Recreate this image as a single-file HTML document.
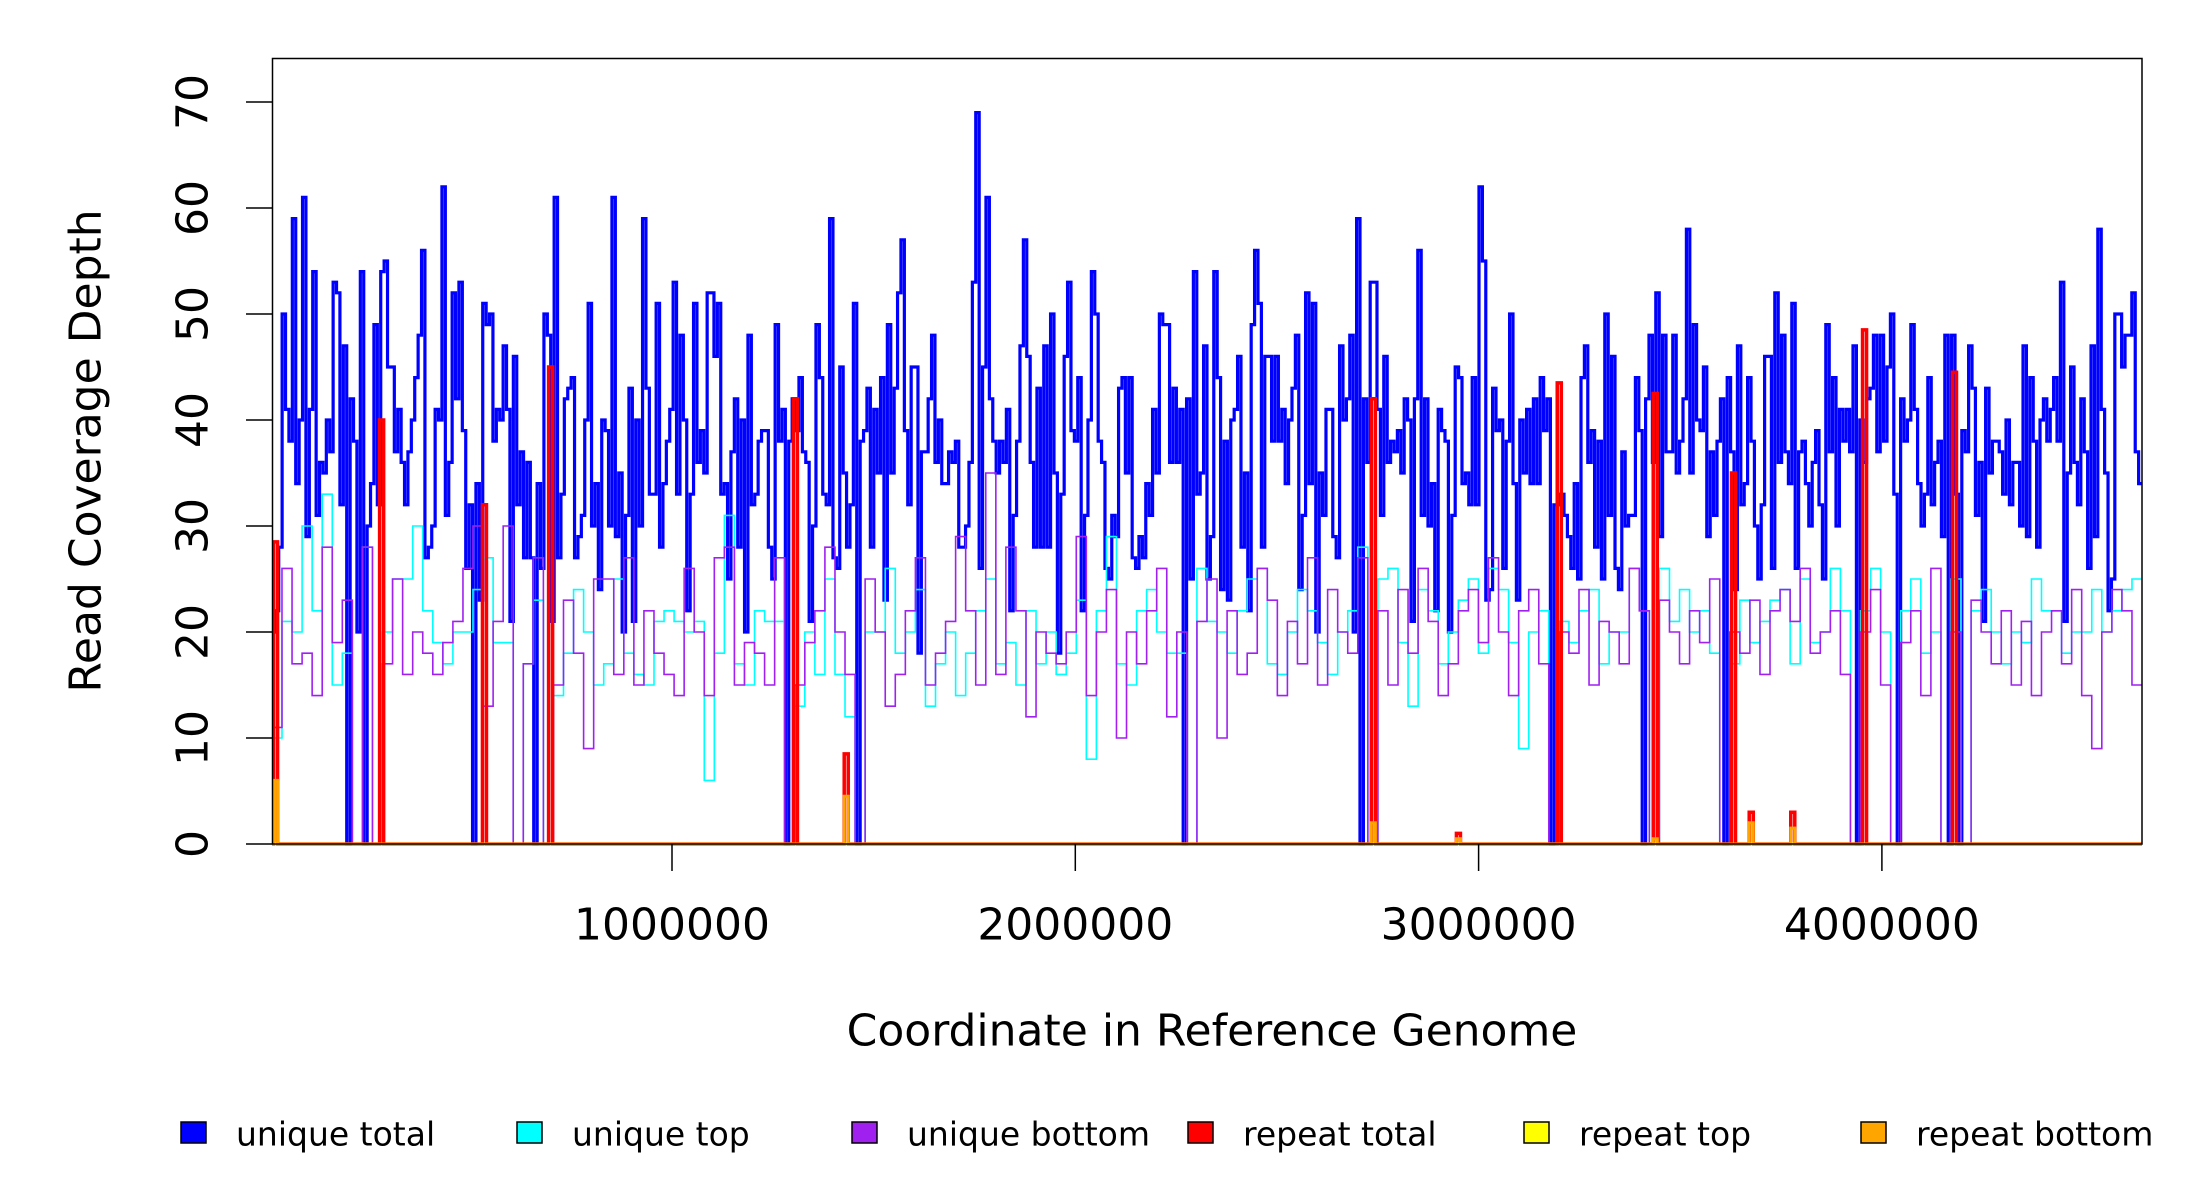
<!DOCTYPE html>
<html><head><meta charset="utf-8">
<style>
html,body{margin:0;padding:0;background:#fff;}
svg{display:block;font-family:"DejaVu Sans","Liberation Sans",sans-serif;}
</style></head>
<body>
<svg id="chart" width="2200" height="1200" viewBox="0 0 2200 1200" xmlns="http://www.w3.org/2000/svg">
<rect x="0" y="0" width="2200" height="1200" fill="#fff"/>
<defs><clipPath id="plotclip"><rect x="272" y="58" width="1870" height="789"/></clipPath></defs>
<g id="series" clip-path="url(#plotclip)"></g>
<rect x="272.5" y="58.5" width="1869.5" height="785.5" fill="none" stroke="#000" stroke-width="1.5"/>
<g id="yaxis"></g>
<g id="xaxis"></g>
<text x="86" y="451" transform="rotate(-90 86 451)" text-anchor="middle" dominant-baseline="central" font-size="44">Read Coverage Depth</text>
<text x="1212" y="1031" text-anchor="middle" dominant-baseline="central" font-size="44">Coordinate in Reference Genome</text>
<g id="legend"></g>
</svg>
<script>
const yTicks = [0,10,20,30,40,50,60,70];
const xTicks = [1000000,2000000,3000000,4000000];
const xTickLabels = ["1000000","2000000","3000000","4000000"];
const genomeStart = 8000;
const genomeEnd = 4645000;

const uniqueTotal = [
20,22,28,50,41,38,59,34,40,61,29,41,54,31,36,35,40,37,53,52,32,47,0,42,38,20,54,0,30,34,49,32,54,55,45,45,37,41,36,32,37,40,44,48,56,27,28,30,41,40,62,31,36,52,42,53,39,26,32,0,34,23,51,49,50,38,41,40,47,41,21,46,32,37,27,36,27,0,34,26,50,48,21,61,27,33,42,43,44,27,29,31,40,51,30,34,24,40,39,30,61,29,35,20,31,43,21,40,30,59,43,33,33,51,28,34,38,41,53,33,48,40,22,33,51,36,39,35,52,52,46,51,33,34,25,37,42,28,40,20,48,32,33,38,39,39,28,25,49,38,41,0,38,42,39,44,37,36,21,30,49,44,33,32,59,27,26,45,35,28,32,51,0,38,39,43,28,41,35,44,23,49,35,43,52,57,39,32,45,45,18,37,37,42,48,36,40,34,34,37,36,38,28,28,30,36,53,69,26,45,61,42,38,35,38,36,41,22,31,38,47,57,46,36,28,43,28,47,28,50,35,18,33,46,53,39,38,44,22,31,40,54,
50,38,36,26,25,31,29,43,44,35,44,27,26,29,27,34,31,41,35,50,49,49,36,43,36,41,0,42,25,54,33,35,47,25,29,54,44,24,38,23,40,41,46,28,35,22,49,56,51,28,46,46,38,46,38,41,34,40,43,48,24,31,52,34,51,20,35,31,41,41,29,27,47,40,42,48,20,59,0,42,36,53,53,41,31,46,36,38,37,39,35,42,40,21,42,56,31,42,30,34,22,41,39,38,20,31,45,44,34,35,32,44,32,62,55,23,24,43,39,40,26,38,50,34,23,40,35,41,34,42,34,44,39,42,0,32,32,33,31,29,26,34,25,44,47,36,39,28,38,25,50,31,46,26,24,37,30,31,31,44,39,0,42,48,36,52,29,48,37,37,48,35,38,42,58,35,49,40,39,45,29,37,31,38,42,0,44,37,24,47,32,34,44,38,30,25,32,46,46,26,52,36,48,37,34,51,26,37,38,34,30,36,39,32,25,49,37,44,30,41,38,41,37,47,0,40,36,42,43,48,37,48,38,45,50,33,0,42,38,40,49,41,34,30,33,44,32,36,38,29,48,0,48,33,0,39,37,47,43,31,36,21,43,35,38,38,37,33,40,32,36,36,30,47,29,44,38,28,40,42,38,41,44,38,53,21,35,45,36,32,42,37,26,47,29,58,41,35,22,25,50,50,45,48,48,52,37,34
];
const uniqueTop = [
10,21,20,30,22,33,15,18,0,28, 0,20,25,25,30,22,19,17,20,20, 24,27,19,19,0,17,23,0,14,18, 24,20,15,17,25,18,16,15,21,22,
21,20,21,6,18,31,17,15,22,21, 21,0,13,20,16,25,16,12,0,20, 20,26,18,20,24,13,17,20,14,18, 22,25,17,19,15,22,17,20,16,18,
23,8,22,29,17,15,22,24,20,18, 18,0,26,21,20,18,22,25,26,17, 16,20,24,22,19,16,20,22,28,0, 25,26,19,13,24,22,17,20,23,25,
18,26,24,19,9,20,22,0,21,19, 22,24,17,20,20,26,22,0,26,21, 24,20,22,18,0,17,23,19,21,23, 24,17,25,19,20,26,22,0,22,26,
20,0,22,25,18,20,0,25,0,22, 24,20,17,20,19,25,22,22,18,20, 20,24,20,22,24,25
];
const uniqueBottom = [
11,26,17,18,14,28,19,23,0,28, 0,17,25,16,20,18,16,19,21,26, 30,13,21,30,0,17,27,0,15,23, 18,9,25,25,16,27,15,22,18,16,
14,26,20,14,27,28,15,19,18,15, 27,0,15,19,22,28,20,16,0,25, 20,13,16,22,27,15,18,21,29,22, 15,35,16,28,22,12,20,18,17,20,
29,14,20,24,10,20,17,22,26,12, 20,0,21,25,10,22,16,18,26,23, 14,21,17,27,15,24,20,18,27,0, 22,15,24,18,26,21,14,17,22,24,
19,27,20,14,22,24,17,0,20,18, 24,15,21,20,17,26,22,0,23,20, 17,22,19,25,0,20,18,23,16,22, 24,21,26,18,20,22,16,0,20,24,
15,0,19,22,14,26,0,20,0,23, 20,17,22,15,21,14,20,22,17,24, 14,9,20,24,22,15
];
const repeatPos =    [12000,275000,530000,694000,1301000,1427000,2734000,2945000,3195000,3433000,3627000,3671000,3774000,3952000,4175000];
const repeatTotal =  [28.5,40,32,45,42,8.5,42,1,43.5,42.5,35,3,3,48.5,44.5];
const repeatTop =    [0,0,0,0,0,0,0,0,0,0,0,0,0,0,0];
const repeatBottom = [6,0,0,0,0,4.5,2,0.5,0,0.5,0,2,1.5,0,0];
const repeatWidth = 10000;

const SVGNS="http://www.w3.org/2000/svg";
function xs(g){ return 268.7 + g*403.3e-6; }
function ys(v){ return 844 - v*10.6; }
function mk(tag, attrs, parent){ const e=document.createElementNS(SVGNS,tag); for(const k in attrs) e.setAttribute(k,attrs[k]); parent.appendChild(e); return e; }

function binnedStepPath(vals){
  const w=(genomeEnd-genomeStart)/vals.length;
  let d="M"+xs(genomeStart).toFixed(2)+","+ys(vals[0]).toFixed(2);
  for(let i=0;i<vals.length;i++){
    if(i>0) d+="V"+ys(vals[i]).toFixed(2);
    d+="H"+xs(genomeStart+(i+1)*w).toFixed(2);
  }
  return d;
}
function spikePath(pos, vals){
  let d="M"+xs(genomeStart).toFixed(2)+","+ys(0);
  for(let i=0;i<pos.length;i++){
    d+="H"+xs(pos[i]).toFixed(2)+"V"+ys(vals[i]).toFixed(2)+"H"+xs(pos[i]+repeatWidth).toFixed(2)+"V"+ys(0);
  }
  d+="H"+xs(genomeEnd).toFixed(2);
  return d;
}
const series=document.getElementById('series');
let p;
p=mk('path',{d:binnedStepPath(uniqueTotal),fill:"none",stroke:"#0000ff","stroke-width":3.2},series);


p=mk('path',{d:binnedStepPath(uniqueTop),fill:"none",stroke:"#00ffff","stroke-width":1.6},series);


p=mk('path',{d:binnedStepPath(uniqueBottom),fill:"none",stroke:"#a020f0","stroke-width":1.6},series);


p=mk('path',{d:spikePath(repeatPos,repeatTotal),fill:"none",stroke:"#ff0000","stroke-width":3.5},series);


p=mk('path',{d:spikePath(repeatPos,repeatTop),fill:"none",stroke:"#ffff00","stroke-width":3},series);


p=mk('path',{d:spikePath(repeatPos,repeatBottom),fill:"none",stroke:"#ffa500","stroke-width":3},series);



const yaxis=document.getElementById('yaxis');
for(const t of yTicks){
  const y=ys(t);
  const l=mk('line',{x1:246,x2:272.5,y1:y,y2:y,stroke:"#000","stroke-width":1.5},yaxis);
  
  
  const tx=mk('text',{x:193,y:y,transform:"rotate(-90 193 "+y+")","text-anchor":"middle","dominant-baseline":"central","font-size":44},yaxis);
  tx.textContent=String(t);
  
  
}
const xaxis=document.getElementById('xaxis');
for(let i=0;i<xTicks.length;i++){
  const x=xs(xTicks[i]);
  const l=mk('line',{x1:x,x2:x,y1:844,y2:871,stroke:"#000","stroke-width":1.5},xaxis);
  
  
  const tx=mk('text',{x:x,y:925,"text-anchor":"middle","dominant-baseline":"central","font-size":44},xaxis);
  tx.textContent=xTickLabels[i];
  
  
}
const legendLabels=["unique total","unique top","unique bottom","repeat total","repeat top","repeat bottom"];
const legendColors=["#0000ff","#00ffff","#a020f0","#ff0000","#ffff00","#ffa500"];
const legendX=[181,517,852,1188,1524,1861];
const legend=document.getElementById('legend');
for(let i=0;i<legendLabels.length;i++){
  const g=mk('g',{},legend);
  
  
  const r=mk('rect',{x:legendX[i],y:1122,width:25,height:21,fill:legendColors[i],stroke:"#000","stroke-width":1.5},g);
  
  
  const t=mk('text',{x:legendX[i]+55,y:1134,"dominant-baseline":"central","font-size":33},g);
  t.textContent=legendLabels[i];
  
  
}
</script>
</body></html>
